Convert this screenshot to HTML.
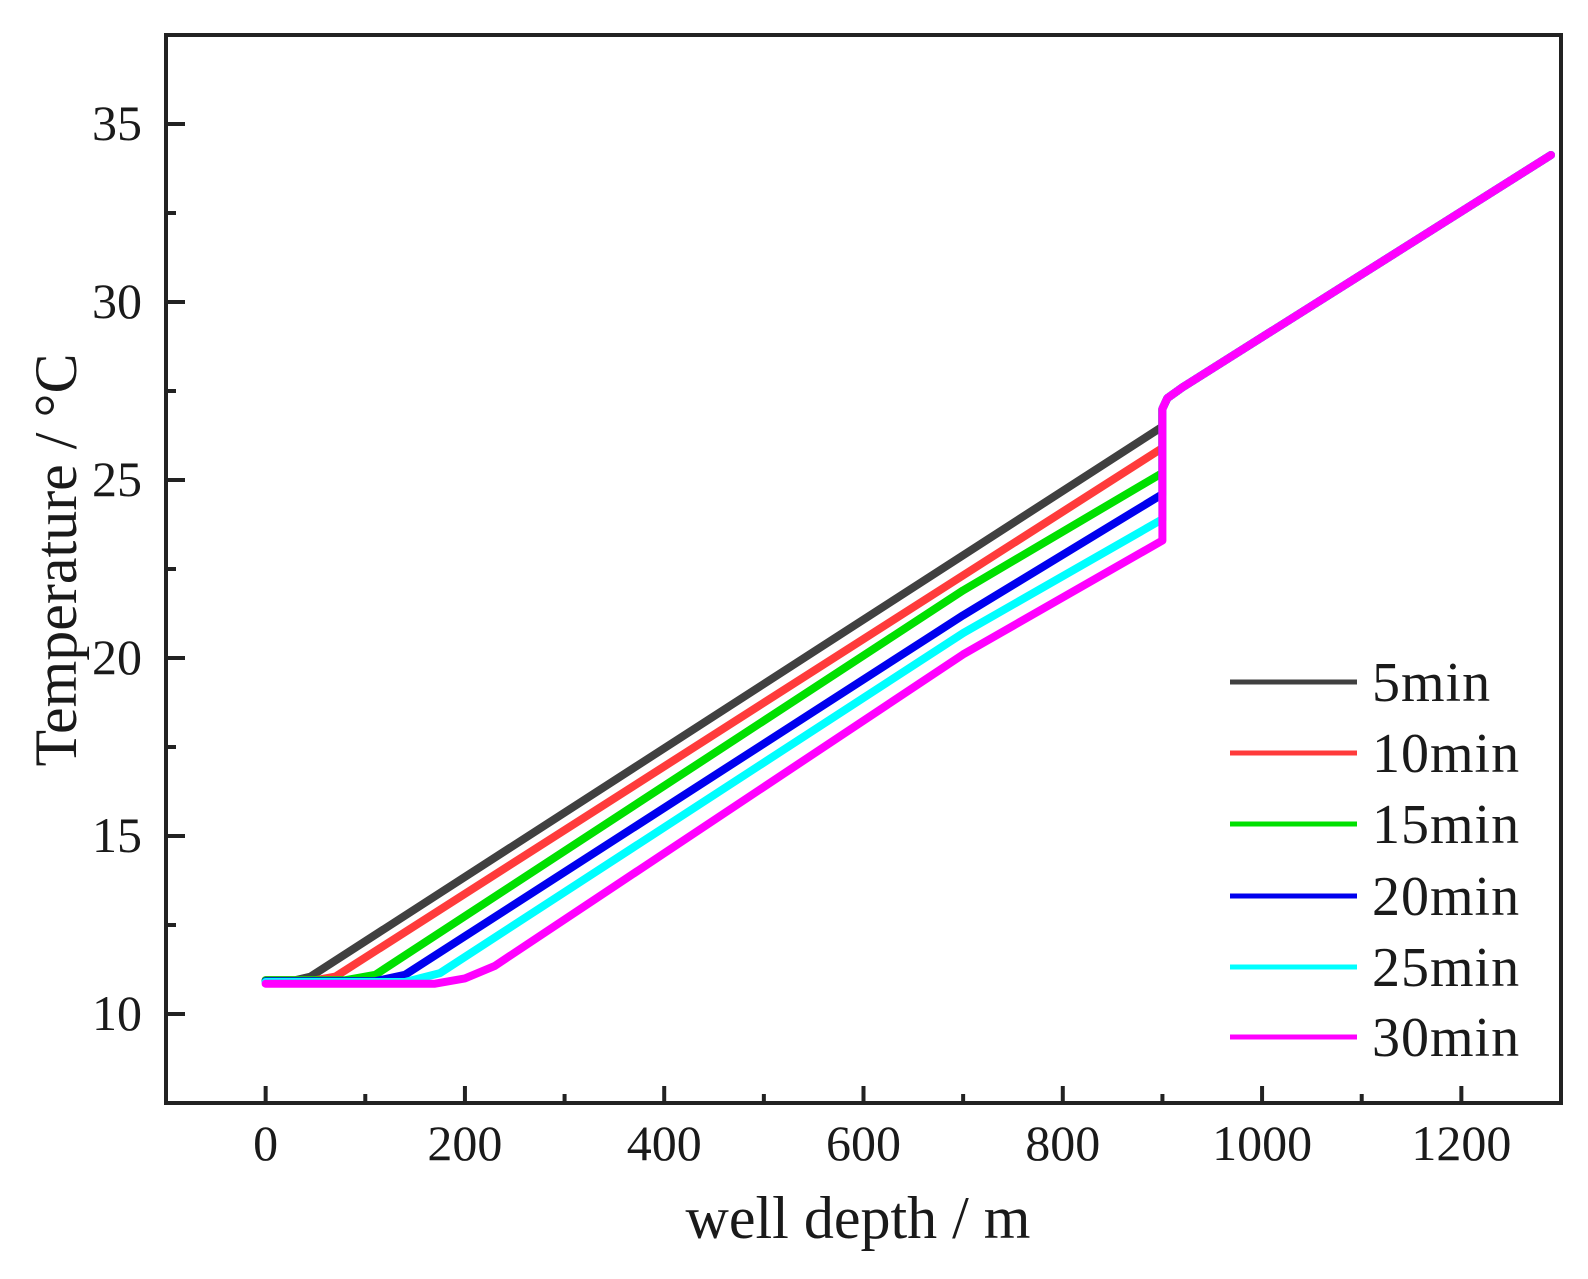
<!DOCTYPE html>
<html><head><meta charset="utf-8"><style>
body{margin:0;background:#fff}
svg{display:block}
text{font-family:"Liberation Serif",serif;fill:#1a1a1a}
</style></head><body>
<svg id="chart" width="1588" height="1279"></svg>
<script>
const xTicks=[0,200,400,600,800,1000,1200];
const yTicks=[10,15,20,25,30,35];
const seriesNames=["5min","10min","15min","20min","25min","30min"];
const seriesColors=["#404040","#ff3b3b","#00e000","#0000ee","#00ffff","#ff00ff"];
const depthUpper=[900,905,920,1290];
const tempUpper=[27.0,27.3,27.6,34.13];
const depth5=[0,30,45,900];
const temp5=[10.95,10.95,11.05,26.5];
const depth10=[0,50,70,900];
const temp10=[10.95,10.95,11.05,25.9];
const depth15=[0,80,110,700,900];
const temp15=[10.95,10.95,11.1,21.9,25.2];
const depth20=[0,110,140,700,900];
const temp20=[10.92,10.92,11.1,21.2,24.6];
const depth25=[0,140,175,700,900];
const temp25=[10.9,10.9,11.15,20.7,23.9];
const depth30=[0,170,200,230,700,900];
const temp30=[10.85,10.85,11.0,11.35,20.1,23.3];
const seriesDepth=[depth5,depth10,depth15,depth20,depth25,depth30];
const seriesTemp=[temp5,temp10,temp15,temp20,temp25,temp30];

const X0=166,X1=1561,Y0=1103,Y1=35;
const xmin=-100,xmax=1300,ymin=7.5,ymax=37.5;
const sx=v=>X0+(v-xmin)/(xmax-xmin)*(X1-X0);
const sy=v=>Y0-(v-ymin)/(ymax-ymin)*(Y0-Y1);
const svg=document.getElementById('chart');
const NS='http://www.w3.org/2000/svg';
function mk(tag,attrs,txt){const e=document.createElementNS(NS,tag);for(const k in attrs)e.setAttribute(k,attrs[k]);if(txt!==undefined)e.textContent=txt;svg.appendChild(e);return e;}

for(let s=0;s<6;s++){
  const xs=seriesDepth[s].concat(depthUpper), ys=seriesTemp[s].concat(tempUpper);
  const d=xs.map((x,i)=>(i?'L':'M')+sx(x).toFixed(1)+','+sy(ys[i]).toFixed(1)).join(' ');
  const p=mk('path',{d:d,fill:'none',stroke:seriesColors[s],'stroke-width':8,'stroke-linejoin':'round','stroke-linecap':'round'});
  
  
}
const fr=mk('rect',{x:X0,y:Y1,width:X1-X0,height:Y0-Y1,fill:'none',stroke:'#222','stroke-width':4});


for(let v=0;v<=1200;v+=100){
  const major=v%200===0;
  const t=mk('line',{x1:sx(v),x2:sx(v),y1:Y0,y2:Y0-(major?17:9),stroke:'#222','stroke-width':4});
  
  
}
xTicks.forEach(v=>{
  const l=mk('text',{x:sx(v),y:1160,'font-size':50,'text-anchor':'middle'},String(v));
  
  
});
for(let v=7.5;v<=37.5;v+=2.5){
  const major=v%5===0;
  const t=mk('line',{x1:X0,x2:X0+(major?19:10),y1:sy(v),y2:sy(v),stroke:'#222','stroke-width':4});
  
  
}
yTicks.forEach(v=>{
  const l=mk('text',{x:142,y:sy(v)+16,'font-size':50,'text-anchor':'end'},String(v));
  
  
});
const xt=mk('text',{x:858,y:1238,'font-size':60,'text-anchor':'middle'},'well depth / m');


const yt=mk('text',{x:0,y:0,'font-size':60,'text-anchor':'middle',transform:'translate(76,560) rotate(-90)'},'Temperature / °C');


const legY=[682,753,824,896,967,1037];
for(let s=0;s<6;s++){
  const ln=mk('line',{x1:1230,x2:1357,y1:legY[s],y2:legY[s],stroke:seriesColors[s],'stroke-width':5});
  
  
  const tx=mk('text',{x:1372,y:legY[s]+19,'font-size':56,'letter-spacing':'1'},seriesNames[s]);
  
  
}
</script>
</body></html>
